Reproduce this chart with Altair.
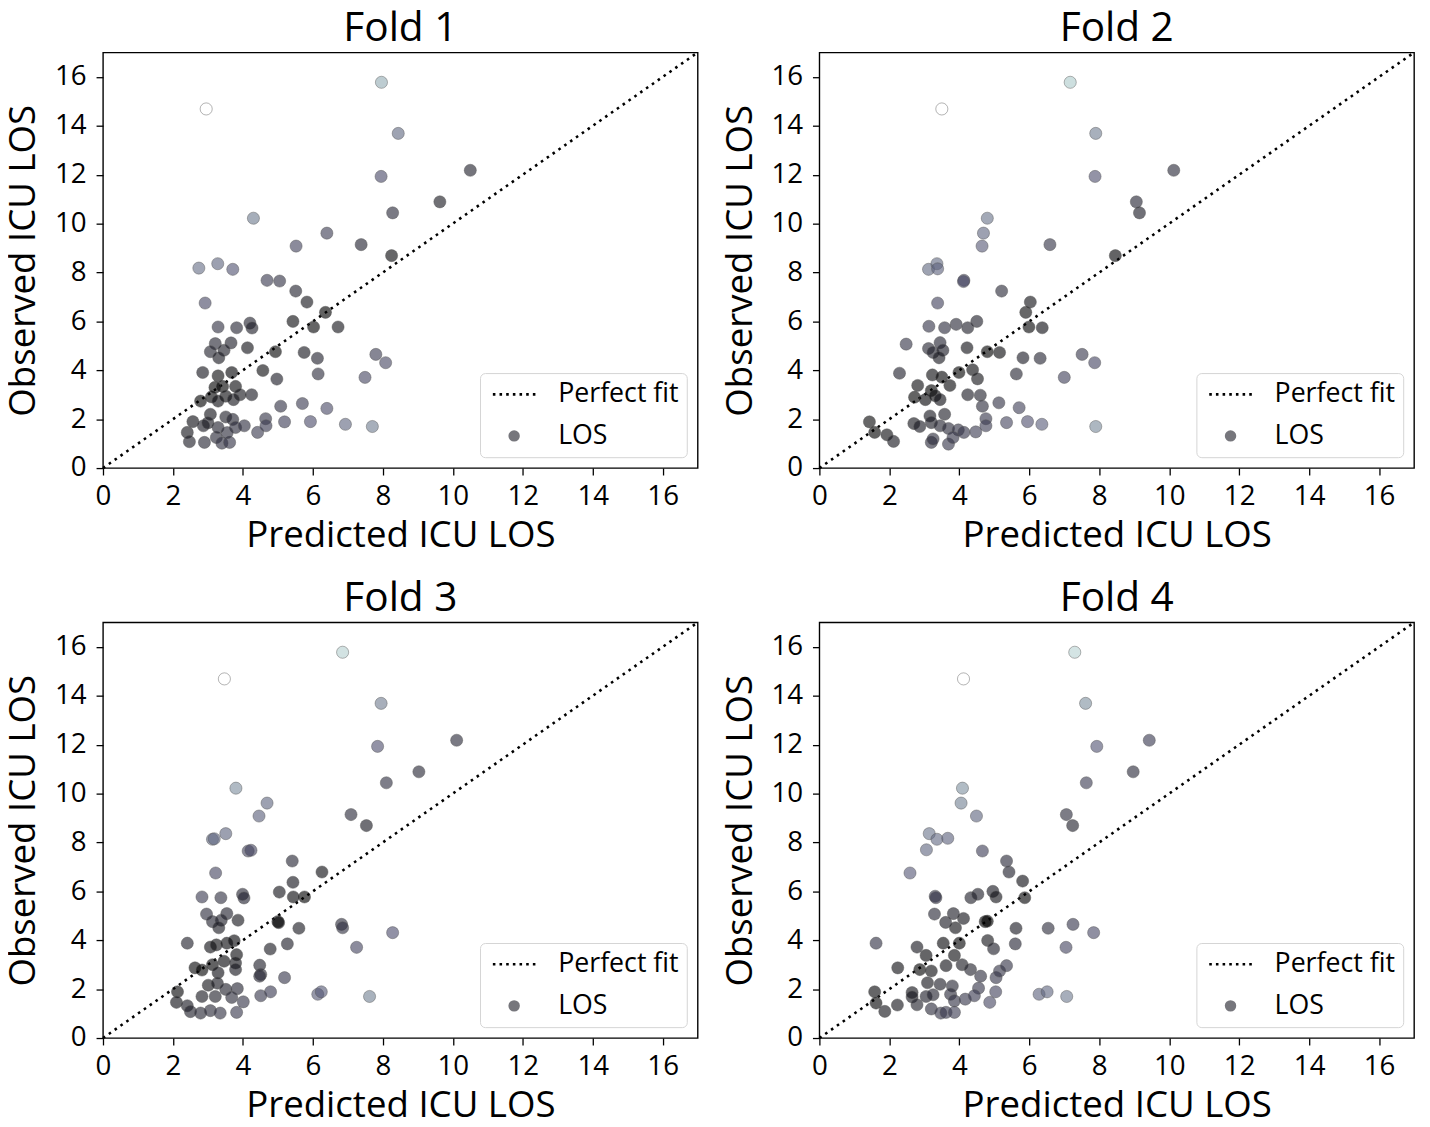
import altair as alt
import pandas as pd

# ---------------- data ----------------
fold_titles = ["Fold 1", "Fold 2", "Fold 3", "Fold 4"]

fold1_pred = [7.96, 2.95, 8.44, 10.50, 7.95, 9.63, 8.28, 4.30, 6.40, 5.52, 7.38, 8.25,
              2.74, 3.28, 3.71, 4.69, 5.05, 5.51, 5.83, 2.92, 6.36, 5.43, 6.02, 6.72,
              3.29, 3.82, 4.20, 4.26, 3.21, 3.66, 3.07, 3.46, 3.31, 4.13, 4.93, 5.75,
              6.13, 7.80, 8.08, 2.85, 3.29, 3.68, 3.42, 3.79, 4.57, 4.97, 6.15, 7.49,
              4.25, 3.10, 2.79, 3.51, 3.92, 3.73, 3.29, 5.08, 5.70, 6.40, 3.07, 2.57,
              2.41, 2.47, 2.87, 2.90, 3.24, 3.29, 3.40, 3.51, 3.71, 3.79, 4.04, 3.62,
              4.42, 4.65, 4.66, 5.19, 5.93, 6.93, 7.70, 3.00, 3.55, 3.20]
fold1_obs = [15.78, 14.69, 13.69, 12.18, 11.93, 10.89, 10.44, 10.22, 9.61, 9.08, 9.14, 8.69,
             8.18, 8.36, 8.13, 7.68, 7.65, 7.24, 6.79, 6.75, 6.37, 6.00, 5.77, 5.77,
             5.77, 5.74, 5.93, 5.73, 5.09, 5.12, 4.76, 4.82, 4.51, 4.92, 4.76, 4.73,
             4.49, 4.65, 4.31, 3.91, 3.77, 3.91, 3.34, 3.34, 3.99, 3.64, 3.85, 3.71,
             3.00, 2.91, 2.74, 2.94, 3.00, 2.80, 2.74, 2.53, 2.64, 2.44, 2.20, 1.90,
             1.46, 1.08, 1.73, 1.05, 1.25, 1.66, 1.02, 2.09, 1.99, 1.66, 1.73, 1.05,
             1.46, 2.02, 1.73, 1.89, 1.90, 1.79, 1.70, 1.85, 1.45, 3.30]

fold2_pred = [7.17, 3.50, 7.90, 10.13, 7.88, 9.06, 9.15, 4.80, 4.69, 4.65, 6.59, 8.46,
              3.12, 3.36, 3.38, 4.13, 4.12, 5.21, 6.03, 5.90, 3.38, 4.50, 3.91, 4.24,
              3.58, 3.13, 5.99, 6.37, 2.48, 3.45, 3.12, 3.25, 3.53, 3.42, 4.22, 4.80,
              5.15, 5.82, 6.31, 7.51, 7.87, 2.29, 3.23, 3.50, 3.99, 4.38, 4.52, 5.63,
              7.00, 2.81, 3.73, 3.20, 2.72, 3.03, 3.31, 3.45, 4.24, 4.60, 4.66, 5.13,
              5.71, 3.16, 3.58, 1.43, 1.58, 1.93, 2.12, 2.70, 2.87, 3.20, 3.45, 3.69,
              3.97, 4.13, 4.47, 4.76, 4.76, 5.35, 5.95, 6.36, 7.90, 3.20, 3.25, 3.69,
              3.82]
fold2_obs = [15.78, 14.69, 13.69, 12.18, 11.93, 10.89, 10.44, 10.22, 9.61, 9.08, 9.14, 8.69,
             8.13, 8.36, 8.15, 7.68, 7.63, 7.24, 6.79, 6.37, 6.75, 6.00, 5.88, 5.74,
             5.74, 5.80, 5.77, 5.74, 5.07, 5.13, 4.89, 4.73, 4.82, 4.51, 4.92, 4.76,
             4.73, 4.51, 4.49, 4.65, 4.31, 3.88, 3.81, 3.72, 3.91, 4.02, 3.65, 3.85,
             3.71, 3.38, 3.38, 3.17, 2.90, 2.80, 2.96, 2.80, 3.00, 2.98, 2.53, 2.67,
             2.47, 2.13, 2.20, 1.89, 1.46, 1.36, 1.09, 1.82, 1.70, 1.86, 1.73, 1.62,
             1.56, 1.46, 1.48, 2.02, 1.73, 1.86, 1.90, 1.79, 1.70, 1.05, 1.19, 0.98,
             1.25]

fold3_pred = [6.85, 3.47, 7.95, 10.11, 7.85, 9.03, 8.10, 3.80, 4.69, 4.46, 7.09, 7.53,
              3.13, 3.51, 3.18, 4.15, 4.23, 5.41, 6.26, 3.22, 5.43, 5.04, 5.76, 5.44,
              2.83, 3.37, 3.99, 4.03, 2.96, 3.54, 3.13, 3.38, 3.31, 3.86, 5.00, 5.02,
              5.60, 6.82, 6.85, 8.28, 2.41, 3.07, 3.24, 3.54, 3.75, 3.82, 4.78, 5.27,
              7.25, 3.46, 3.79, 2.63, 2.83, 3.13, 3.29, 3.79, 4.48, 4.51, 4.48, 5.19,
              3.01, 3.27, 3.84, 2.13, 2.10, 2.41, 2.50, 2.83, 2.79, 3.07, 3.21, 3.35,
              3.51, 3.68, 4.01, 3.82, 4.51, 4.79, 6.14, 6.24, 7.62]
fold3_obs = [15.78, 14.69, 13.69, 12.18, 11.93, 10.89, 10.44, 10.22, 9.61, 9.08, 9.14, 8.69,
             8.13, 8.36, 8.15, 7.65, 7.68, 7.24, 6.79, 6.75, 6.37, 5.97, 5.77, 5.77,
             5.77, 5.74, 5.88, 5.73, 5.07, 5.09, 4.76, 4.82, 4.51, 4.82, 4.76, 4.72,
             4.49, 4.65, 4.51, 4.31, 3.88, 3.72, 3.81, 3.88, 3.98, 3.41, 3.64, 3.85,
             3.71, 3.14, 3.07, 2.87, 2.78, 3.00, 2.67, 2.80, 2.98, 2.60, 2.53, 2.47,
             2.16, 2.24, 2.02, 1.89, 1.46, 1.32, 1.08, 1.70, 1.02, 1.12, 1.70, 1.02,
             1.99, 1.66, 1.48, 1.05, 1.73, 1.89, 1.79, 1.89, 1.70]

fold4_pred = [7.30, 4.12, 7.61, 9.43, 7.93, 8.97, 7.63, 4.09, 4.05, 4.49, 7.06, 7.24,
              3.14, 3.36, 3.67, 3.06, 4.66, 5.35, 5.42, 2.59, 5.81, 4.96, 5.05, 5.87,
              3.31, 3.33, 4.33, 4.53, 3.29, 3.83, 3.61, 4.12, 3.89, 4.74, 4.80, 5.62,
              6.54, 7.25, 7.84, 1.62, 3.54, 4.00, 4.81, 4.98, 5.60, 7.05, 2.79, 3.05,
              3.86, 2.24, 2.87, 3.20, 3.62, 4.08, 4.32, 4.61, 5.05, 5.15, 5.35, 3.09,
              3.45, 3.80, 4.55, 5.04, 1.58, 1.62, 1.87, 2.23, 2.65, 2.65, 2.79, 3.05,
              3.25, 3.20, 3.47, 3.62, 3.75, 3.86, 3.86, 4.17, 4.43, 4.87, 6.28, 6.51,
              7.07]
fold4_obs = [15.78, 14.69, 13.69, 12.18, 11.93, 10.89, 10.44, 10.22, 9.61, 9.08, 9.14, 8.69,
             8.36, 8.13, 8.17, 7.70, 7.65, 7.24, 6.79, 6.75, 6.42, 6.00, 5.77, 5.74,
             5.80, 5.74, 5.74, 5.88, 5.07, 5.09, 4.73, 4.89, 4.51, 4.76, 4.78, 4.49,
             4.49, 4.65, 4.31, 3.88, 3.88, 3.88, 3.99, 3.65, 3.85, 3.71, 3.72, 3.38,
             3.38, 2.87, 2.80, 2.74, 2.96, 3.00, 2.80, 2.53, 2.47, 2.74, 2.96, 2.26,
             2.20, 2.13, 2.04, 1.89, 1.89, 1.43, 1.09, 1.35, 1.86, 1.68, 1.36, 1.70,
             1.77, 1.19, 1.02, 1.05, 1.79, 1.52, 1.05, 1.59, 1.73, 1.46, 1.79, 1.89,
             1.70]

fold_pred = [fold1_pred, fold2_pred, fold3_pred, fold4_pred]
fold_obs = [fold1_obs, fold2_obs, fold3_obs, fold4_obs]

axis_limits = [0, 17]
tick_values = [0, 2, 4, 6, 8, 10, 12, 14, 16]
legend_labels = ["Perfect fit", "LOS"]

# matplotlib "bone" colormap break points
bone_stops = [0.0, 0.365079, 0.746032, 1.0]
bone_colors = ["#000000", "#515171", "#a6c6c6", "#ffffff"]

FONT = "Open Sans"


def dotted_symbol(n=7, half_span=3.73, dot=0.45):
    """Legend glyph: a short dotted line made of square dots (unit coords)."""
    step = (2 * half_span - dot) / (n - 1)
    parts = []
    for i in range(n):
        x0 = -half_span + i * step
        parts.append(f"M{x0:.3f},{-dot / 2:.3f}h{dot}v{dot}h{-dot}Z")
    return "".join(parts)


def panel(title, pred, obs):
    pts_df = pd.DataFrame({"pred": pred, "obs": obs})
    diag_df = pd.DataFrame({"x": axis_limits, "y": axis_limits})
    leg_df = pd.DataFrame({"label": legend_labels})

    xs = alt.Scale(domain=axis_limits, nice=False, zero=False)
    ys = alt.Scale(domain=axis_limits, nice=False, zero=False)
    xaxis = alt.Axis(values=tick_values, title="Predicted ICU LOS", format="d")
    yaxis = alt.Axis(values=tick_values, title="Observed ICU LOS", format="d")

    line = alt.Chart(diag_df).mark_line(
        color="black", strokeWidth=2.6, strokeDash=[2.6, 4.6], strokeCap="butt"
    ).encode(
        x=alt.X("x:Q", scale=xs, axis=xaxis),
        y=alt.Y("y:Q", scale=ys, axis=yaxis),
    )

    pts = alt.Chart(pts_df).transform_calculate(
        resid="abs(datum.obs - datum.pred)"
    ).transform_joinaggregate(
        rmax="max(resid)", rmin="min(resid)"
    ).transform_calculate(
        norm="(datum.resid - datum.rmin) / (datum.rmax - datum.rmin)"
    ).mark_circle(
        size=150, fillOpacity=0.62, stroke="#555555", strokeOpacity=0.45, strokeWidth=1.0
    ).encode(
        x=alt.X("pred:Q", scale=xs, axis=xaxis),
        y=alt.Y("obs:Q", scale=ys, axis=yaxis),
        color=alt.Color(
            "norm:Q",
            scale=alt.Scale(domain=bone_stops, range=bone_colors, interpolate="rgb"),
            legend=None,
        ),
    )

    legend = alt.Legend(
        title=None, orient="bottom-right", offset=11,
        symbolSize=133, symbolOffset=13, labelOffset=31, rowPadding=14,
        padding=8, strokeColor="#d5d5d5", fillColor="white", cornerRadius=5,
        labelFont=FONT, labelFontSize=27, labelColor="black",
        symbolOpacity=1, symbolStrokeWidth=0,
    )
    leg = alt.Chart(leg_df).mark_point(filled=True, opacity=0, size=133).encode(
        fill=alt.Fill("label:N", scale=alt.Scale(domain=legend_labels,
                                                 range=["black", "#76767c"]),
                      legend=legend),
        shape=alt.Shape("label:N", scale=alt.Scale(domain=legend_labels,
                                                   range=[dotted_symbol(), "circle"]),
                        legend=legend),
    )

    return alt.layer(line, pts, leg).properties(
        width=601, height=420,
        title=alt.Title(title, fontSize=41, font=FONT, fontWeight="normal",
                        anchor="middle", frame="group", offset=-3, color="black"),
    )


panels = [panel(t, p, o) for t, p, o in zip(fold_titles, fold_pred, fold_obs)]

chart = alt.concat(
    *panels, columns=2, spacing={"row": 156, "column": 123}, bounds="flush"
).resolve_scale(
    color="independent", fill="independent", shape="independent"
).properties(
    padding={"left": -4, "top": -6, "right": 2, "bottom": 0}
).configure_view(
    stroke="black", strokeWidth=1.4
).configure_axis(
    labelFont=FONT, titleFont=FONT, labelFontSize=28, titleFontSize=37,
    titleFontWeight="normal", labelColor="black", titleColor="black",
    tickColor="black", tickSize=7, tickWidth=1.3, domain=False, grid=False,
    labelPadding=8, titlePadding=7, labelFlush=False,
).configure_axisY(
    labelPadding=10, titlePadding=12,
)

chart.save("out.html", embed_options={"renderer": "svg", "actions": False})
